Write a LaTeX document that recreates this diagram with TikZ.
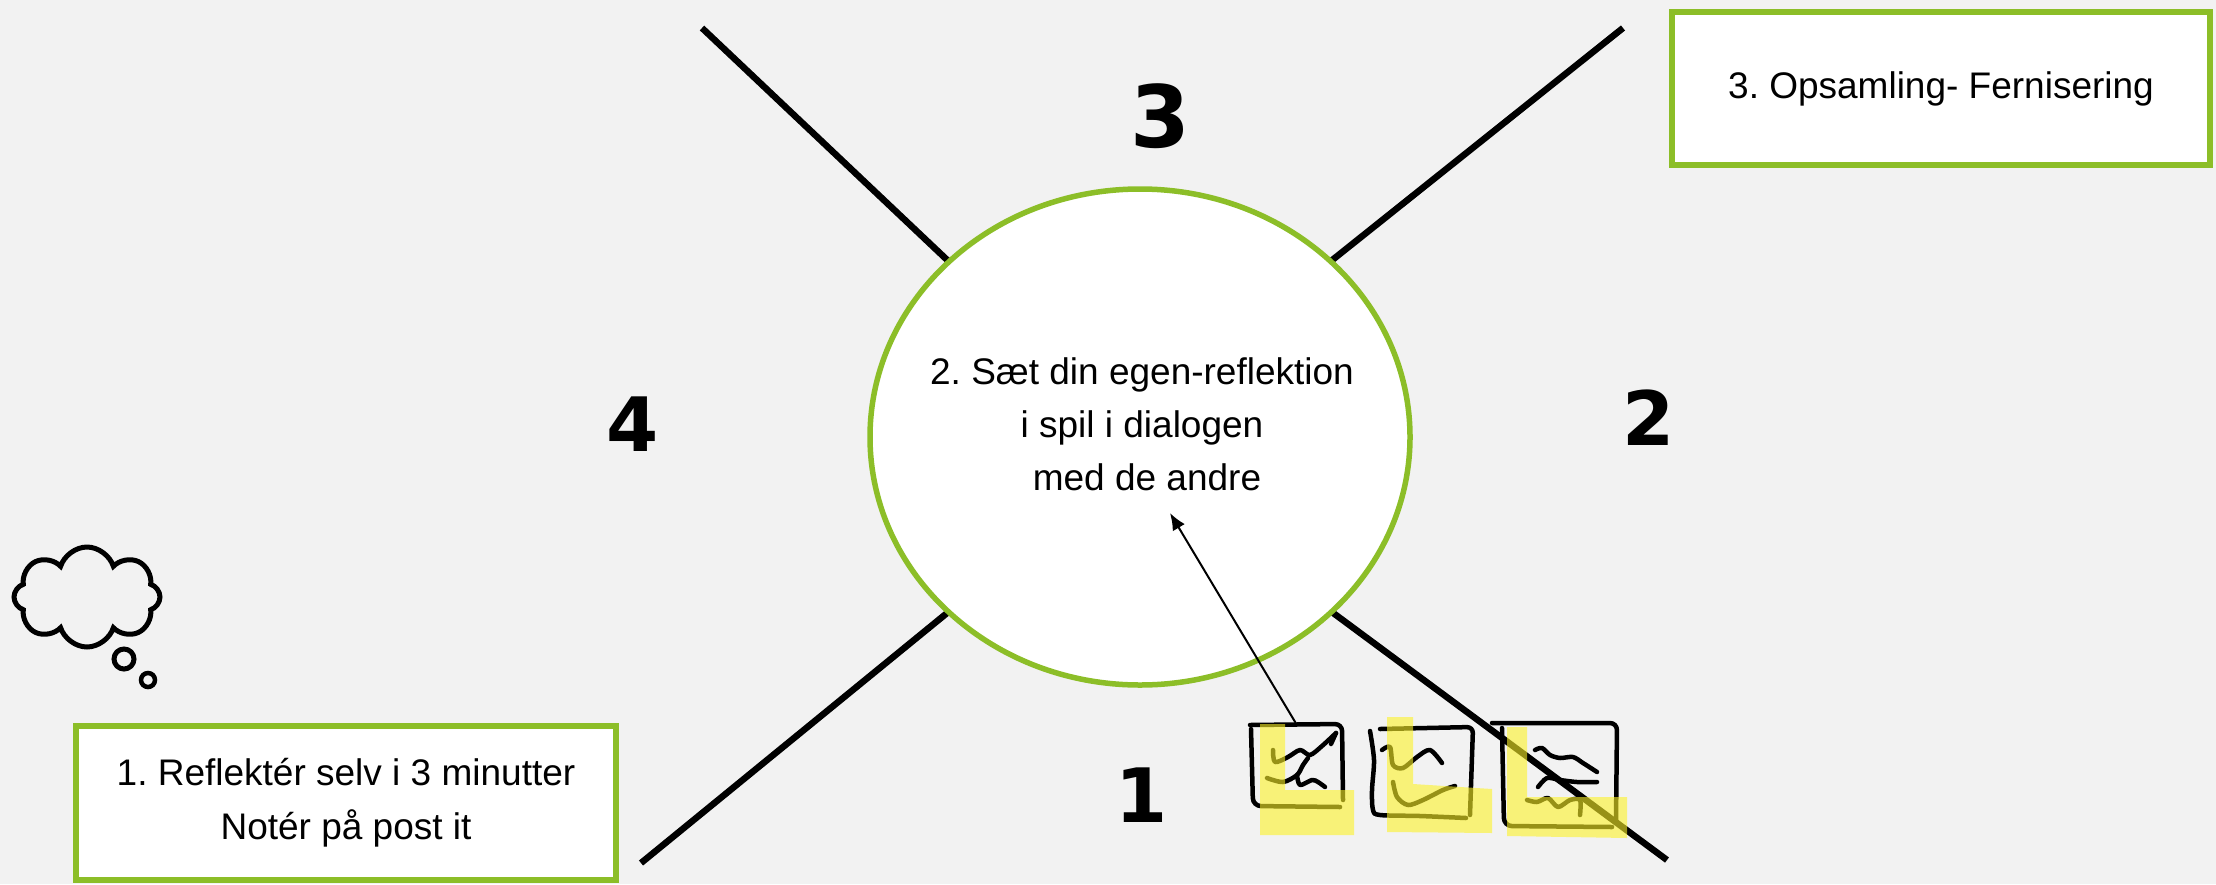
\documentclass[tikz,border=0pt]{standalone}
\usepackage{fontspec}
\setmainfont{Liberation Sans}
\newfontfamily\numfont{DejaVu Sans}
\usetikzlibrary{shapes.geometric,shapes.symbols,arrows.meta}
\definecolor{bgc}{RGB}{242,242,242}
\definecolor{grn}{RGB}{140,190,40}
\definecolor{hlc}{RGB}{252,242,39}
\begin{document}
\frenchspacing
\begin{tikzpicture}[x=1pt,y=-1pt,
  greenbox/.style={draw=grn, line width=6pt, fill=white, inner sep=0pt, align=center, font=\fontsize{37}{54}\selectfont},
  axisline/.style={line width=6.5pt, black, line cap=butt},
  bignum/.style={font=\numfont\bfseries\fontsize{75}{75}\selectfont, inner sep=0pt},
  sketch/.style={line width=4.5pt, line cap=round, line join=round},
  highlight/.style={fill=hlc, fill opacity=0.6, draw=none},
  postit/.style={minimum width=#1, inner sep=0pt},
]
\fill[bgc] (0,0) rectangle (2216,884);
\useasboundingbox (0,0) rectangle (2216,884);

% four rays from the central ellipse
\coordinate (ulo) at (702,28);    \coordinate (uli) at (962,274);
\coordinate (uro) at (1623,28);   \coordinate (uri) at (1316,273);
\coordinate (llo) at (641,863);   \coordinate (lli) at (963,600);
\coordinate (lro) at (1667,860);  \coordinate (lri) at (1317,601);
\draw[axisline] (ulo) -- (uli);
\draw[axisline] (uro) -- (uri);
\draw[axisline] (llo) -- (lli);
\draw[axisline] (lro) -- (lri);

% central ellipse
\node[ellipse, draw=grn, line width=5.5pt, fill=white, minimum width=540, minimum height=496, inner sep=0pt] (circ) at (1140,437) {};
\node[align=center, inner sep=0pt, font=\fontsize{37}{53}\selectfont] (circtext) at (1142,424)
  {2. Sæt din egen-reflektion\\i spil i dialogen\\\hspace*{10pt}med de andre};

% boxes
\node[greenbox, minimum width=540, minimum height=154] (box1) at (346,803) {1. Reflektér selv i 3 minutter\\Notér på post it};
\node[greenbox, minimum width=538, minimum height=153] (box3) at (1941,88.5) {3. Opsamling- Fernisering};

% quadrant numbers
\node[bignum, font=\numfont\bfseries\fontsize{86}{86}\selectfont] (n3) at (1160,116) {3};
\node[bignum] (n4) at (633,424) {4};
\node[bignum] (n2) at (1649,418) {2};
\node[bignum] (n1) at (1142,795) {1};

% thought cloud
\node[cloud, cloud puffs=8, cloud puff arc=145, aspect=1.5, draw=black, line width=5pt, minimum width=146, minimum height=100, inner sep=0pt] (cloud) at (87,597) {};
\node[circle, draw=black, line width=5pt, minimum size=20, inner sep=0pt] (bub1) at (124,659) {};
\node[circle, draw=black, line width=4.5pt, minimum size=14, inner sep=0pt] (bub2) at (148,680) {};

% post-its (anchors)
\node[postit=93, minimum height=83] (p1) at (1296.5,766) {};
\node[postit=102, minimum height=90] (p2) at (1421,773) {};
\node[postit=125, minimum height=104] (p3) at (1555,775) {};

% post-it 1
\draw[sketch, rounded corners=7pt] (1250,725) -- (1342,724) -- (1343,800);
\draw[sketch, rounded corners=8pt] (1251,729) -- (1253,806) -- (1340,807);
\draw[sketch] plot[smooth] coordinates {(1273,750) (1275,762) (1288,757) (1300,750) (1310,755) (1322,746) (1336,733)};
\draw[sketch] (1336,733) -- (1331,744);
\draw[sketch] plot[smooth] coordinates {(1267,778) (1283,782) (1297,775) (1303,765) (1308,758)};
\draw[sketch] plot[smooth] coordinates {(1297,775) (1300,785) (1312,780) (1318,782) (1325,787)};

% post-it 2
\draw[sketch, rounded corners=6pt] (1380,729) -- (1473,727) -- (1470,815);
\draw[sketch] plot[smooth] coordinates {(1370,731) (1374,760) (1372,790) (1373,810) (1380,815) (1420,816) (1466,818)};
\draw[sketch] plot[smooth] coordinates {(1382,750) (1390,747) (1393,765) (1403,768) (1417,757) (1430,750) (1442,763)};
\draw[sketch] plot[smooth] coordinates {(1393,782) (1397,797) (1408,805) (1423,800) (1443,790) (1455,786)};

% post-it 3
\draw[sketch, rounded corners=7pt] (1492,723) -- (1617,723) -- (1616,822);
\draw[sketch, rounded corners=8pt] (1502,728) -- (1504,826) -- (1612,827);
\draw[sketch] plot[smooth] coordinates {(1535,750) (1542,748) (1550,755) (1560,758) (1573,757) (1583,763) (1597,772)};
\draw[sketch] plot[smooth] coordinates {(1538,787) (1547,778) (1560,780) (1577,782) (1597,782)};
\draw[sketch] plot[smooth] coordinates {(1527,800) (1537,802) (1548,798) (1558,807) (1570,800) (1580,800) (1580,815)};

% highlighter
\fill[highlight] (1260,724) -- (1285,724) -- (1285,790) -- (1354,790) -- (1354,835) -- (1260,835) -- cycle;
\fill[highlight] (1387,717) -- (1413,717) -- (1413,784) -- (1492,789) -- (1492,833) -- (1387,832) -- cycle;
\fill[highlight] (1507,727) -- (1527,727) -- (1527,797) -- (1627,797) -- (1627,838) -- (1507,836) -- cycle;

% arrow
\coordinate (arrowtip) at (1170,513);
\draw[line width=2pt, -{Latex[length=17pt,width=14pt]}] (p1.north) -- (arrowtip);
\end{tikzpicture}
\end{document}
